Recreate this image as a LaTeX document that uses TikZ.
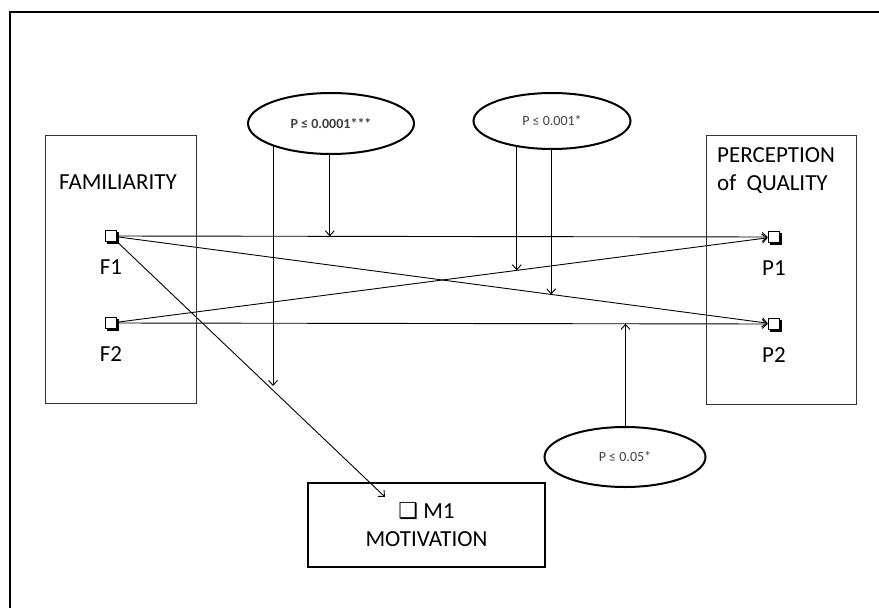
\documentclass[tikz,border=0pt]{standalone}
\usepackage{fontspec}
\setmainfont{Carlito}
\newfontfamily\symfont{DejaVu Sans}
\usetikzlibrary{positioning,shapes.geometric,shadows,arrows.meta,backgrounds,calc}

\tikzset{
  box/.style={draw, line width=1pt, black!80},
  item/.style={draw, fill=white, inner sep=0pt, minimum size=11.5pt, line width=1pt,
    drop shadow={shadow xshift=2.2pt, shadow yshift=-2.2pt, opacity=1, fill=black}},
  lbl/.style={font=\fontsize{23}{28}\selectfont, inner sep=2pt},
  pval/.style={draw, ellipse, line width=2pt, fill=white, inner sep=0pt,
    font=\fontsize{14}{16}\selectfont, text=black!75},
  link/.style={line width=0.9pt, -{Straight Barb[length=5pt,width=9pt]}},
}

\begin{document}
\begin{tikzpicture}[x=1pt,y=-1pt]
  %%%%% START %%%%%
  \useasboundingbox (0,0) rectangle (879,608);
  \draw[line width=2.5pt] (10,12) rectangle (900,640);

  % the two groups
  \node[box, minimum width=151pt, minimum height=268pt] (famBox) at (120.5,269) {};
  \node[box, minimum width=150pt, minimum height=269pt] (perBox) at (781,269.5) {};
  \node[lbl] (famText) at (118,182) {FAMILIARITY};
  \node[lbl, align=left, anchor=north west] (perText) at (715,145.6) {PERCEPTION\\of\ \ QUALITY};

  % items
  \node[item] (f1) at (111,236) {};
  \node[item] (f2) at (111,323) {};
  \node[item] (p1) at (774,237) {};
  \node[item] (p2) at (774,324) {};
  \node[lbl, below=15pt of f1] (f1Text) {F1};
  \node[lbl, below=15pt of f2] (f2Text) {F2};
  \node[lbl, below=15pt of p1] (p1Text) {P1};
  \node[lbl, below=15pt of p2] (p2Text) {P2};

  \node[lbl, draw, line width=2pt, minimum width=237pt, minimum height=84pt, align=center]
    (mot) at (426.5,525) {{\symfont\fontsize{22}{28}\selectfont ❑} M1\\MOTIVATION};

  % p values
  \node[pval, minimum width=166pt, minimum height=61pt, font=\fontsize{14}{16}\selectfont\bfseries]
    (e1) at (331,123.5) {P ≤ 0.0001***};
  \node[pval, minimum width=157pt, minimum height=56pt] (e2) at (552,121) {P ≤ 0.001*};
  \node[pval, minimum width=161pt, minimum height=60pt] (e3) at (625,457) {P ≤ 0.05*};

  % points hit by the moderators
  \coordinate (c1) at (273,386);
  \coordinate (m1Tip) at (385,497);
  \coordinate (onC) at ($(f1)!0.330!(p1)$);
  \coordinate (onA) at ($(f2)!0.612!(p1)$);
  \coordinate (onB) at ($(f1)!0.664!(p2)$);
  \coordinate (onD) at ($(f2)!0.776!(p2)$);

  \begin{scope}[on background layer]
    \draw[link] (f1) -- (p1);
    \draw[link] (f2) -- (p2);
    \draw[link] (f1) -- (p2);
    \draw[link] (f2) -- (p1);
    \draw[link] (f1) -- (m1Tip);

    \draw[link] (e1.center -| c1) -- (c1);
    \draw[link] (e1.center -| onC) -- (onC);
    \draw[link] (e2.center -| onA) -- (onA);
    \draw[link] (e2.center -| onB) -- (onB);
    \draw[link] (e3.center -| onD) -- (onD);
  \end{scope}
  %%%%% END %%%%%
\end{tikzpicture}
\end{document}
